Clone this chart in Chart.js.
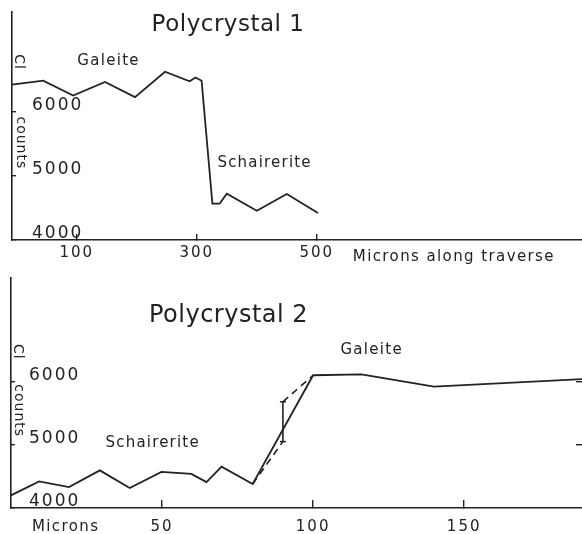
<!DOCTYPE html>
<html lang="en">

<head>
    <meta charset="UTF-8" />
    <title>Cl counts across polycrystals</title>
    <script src="https://cdn.jsdelivr.net/npm/chart.js"></script>
    <style>
        body { margin: 0; background: #fff; }
        canvas { position: absolute; left: 0; }
        #topChart { top: 0; }
        #bottomChart { top: 262px; }
    </style>
</head>

<body>
    <canvas id="topChart" width="582" height="272"></canvas>
    <canvas id="bottomChart" width="582" height="272"></canvas>

    <script>
        // Polycrystal 1 traverse
        const p1Microns = [-8, 44, 94, 147, 197, 247, 288, 298, 308, 326, 338, 350, 400, 450, 502];
        const p1Counts = [6420, 6480, 6250, 6460, 6225, 6620, 6470, 6530, 6480, 4565, 4565, 4720, 4455, 4715, 4420];
        const p1MicronTicks = [100, 300, 500];
        const p1CountTicks = [4000, 5000, 6000];

        // Polycrystal 2 traverse
        const p2Microns = [0, 9.3, 19.2, 29.4, 39.3, 49.8, 59.7, 64.7, 69.7, 80, 100, 116, 140, 189];
        const p2Counts = [4200, 4420, 4330, 4595, 4315, 4570, 4540, 4410, 4655, 4380, 6100, 6115, 5920, 6040];
        // dashed alternative with error bar at 90 microns
        const p2AltMicrons = [80, 90, 90, 100];
        const p2AltCounts = [4380, 5050, 5680, 6100];
        const p2MicronTicks = [50, 100, 150];
        const p2CountTicks = [4000, 5000, 6000];

        const ink = "#222";
        const font = "'DejaVu Sans', sans-serif";

        const toPoints = (xs, ys) => xs.map((x, i) => ({ x: x, y: ys[i] }));
        const setTicks = (list) => (scale) => { scale.ticks = list.map(v => ({ value: v })); };
        // fixed box size, no extra room for overhanging labels
        const fitBox = (w, h) => (s) => {
            if (w !== null) s.width = w;
            if (h !== null) s.height = h;
            s.paddingTop = s.paddingBottom = s.paddingLeft = s.paddingRight = 0;
        };

        // text written on the plot, placed in data units
        const notesPlugin = {
            id: "notes",
            beforeDraw(chart) {
                chart.ctx.letterSpacing = "2px";
            },
            afterDraw(chart, args, opts) {
                const ctx = chart.ctx;
                const xs = chart.scales.x;
                const ys = chart.scales.y;
                opts.items.forEach(n => {
                    ctx.save();
                    ctx.fillStyle = ink;
                    ctx.font = n.size + "px " + font;
                    ctx.letterSpacing = (n.spacing || 0) + "px";
                    ctx.textAlign = n.align || "center";
                    ctx.textBaseline = "middle";
                    ctx.translate(xs.getPixelForValue(n.x), ys.getPixelForValue(n.y));
                    if (n.rotate) ctx.rotate(Math.PI / 2);
                    ctx.fillText(n.text, 0, 0);
                    ctx.restore();
                });
            },
        };

        function axisX(min, max, ticks, height, tickLen, pad) {
            return {
                type: "linear",
                min: min,
                max: max,
                afterFit: fitBox(null, height),
                afterBuildTicks: setTicks(ticks),
                border: { color: ink, width: 1.6 },
                grid: { drawOnChartArea: false, tickLength: tickLen, color: ink, lineWidth: 1.4 },
                ticks: {
                    padding: pad,
                    maxRotation: 0,
                    color: ink,
                    font: { family: font, size: 15 },
                    callback: (v) => String(v),
                },
            };
        }

        function axisY(min, max, ticks, pad) {
            return {
                min: min,
                max: max,
                afterFit: fitBox(0, null),
                afterBuildTicks: setTicks(ticks),
                border: { color: ink, width: 1.6 },
                grid: { drawOnChartArea: false, tickLength: -4, color: ink, lineWidth: 1.4 },
                ticks: {
                    mirror: true,
                    padding: pad,
                    labelOffset: -6,
                    color: ink,
                    font: { family: font, size: 17 },
                    callback: (v) => String(v),
                },
            };
        }

        new Chart(document.getElementById("topChart"), {
            type: "line",
            data: {
                datasets: [
                    {
                        data: toPoints(p1Microns, p1Counts),
                        borderColor: ink,
                        borderWidth: 1.8,
                        pointRadius: 0,
                        tension: 0,
                    },
                ],
            },
            options: {
                responsive: false,
                animation: false,
                layout: { padding: { left: 12, top: 12, right: 0, bottom: 0 } },
                scales: {
                    x: axisX(-8, 942, p1MicronTicks, 32, -6, 10),
                    y: axisY(4000, 7550, p1CountTicks, 20),
                },
                plugins: {
                    legend: { display: false },
                    tooltip: { enabled: false },
                    notes: {
                        items: [
                            { text: "Polycrystal 1", x: 352, y: 7340, size: 23, spacing: 0.5 },
                            { text: "Galeite", x: 153, y: 6790, size: 15, spacing: 1.3 },
                            { text: "Schairerite", x: 413, y: 5202, size: 15, spacing: 1.2 },
                            { text: "Microns along traverse", x: 560, y: 3730, size: 15, spacing: 1.4, align: "left" },
                            { text: "Cl", x: 3, y: 6772, size: 14, spacing: 1, rotate: true },
                            { text: "counts", x: 6, y: 5513, size: 14, spacing: 1, rotate: true },
                        ],
                    },
                },
            },
            plugins: [notesPlugin],
        });

        new Chart(document.getElementById("bottomChart"), {
            type: "line",
            data: {
                datasets: [
                    {
                        data: toPoints(p2Microns, p2Counts),
                        borderColor: ink,
                        borderWidth: 1.8,
                        pointRadius: 0,
                        tension: 0,
                    },
                    {
                        data: toPoints(p2AltMicrons, p2AltCounts),
                        borderColor: ink,
                        borderWidth: 1.6,
                        borderDash: [7, 5],
                        segment: {
                            borderDash: (c) => (c.p0.parsed.x === c.p1.parsed.x ? [] : [7, 5]),
                        },
                        pointStyle: "line",
                        pointRadius: [0, 3, 3, 0],
                        pointBorderColor: ink,
                        pointBorderWidth: 1.5,
                        tension: 0,
                    },
                ],
            },
            options: {
                responsive: false,
                animation: false,
                layout: { padding: { left: 11, top: 16, right: 0, bottom: 0 } },
                scales: {
                    x: axisX(0, 189, p2MicronTicks, 26, -8, 18),
                    y: axisY(4000, 7638, p2CountTicks, 18),
                    y2: {
                        position: "right",
                        min: 4000,
                        max: 7638,
                        afterFit: fitBox(0, null),
                        afterBuildTicks: setTicks([5000, 6000]),
                        border: { display: false },
                        grid: { drawOnChartArea: false, tickLength: -6, color: ink, lineWidth: 1.4 },
                        ticks: { display: false },
                    },
                },
                plugins: {
                    legend: { display: false },
                    tooltip: { enabled: false },
                    notes: {
                        items: [
                            { text: "Polycrystal 2", x: 72, y: 7038, size: 24, spacing: 0.5 },
                            { text: "Galeite", x: 119.4, y: 6501, size: 15, spacing: 1.3 },
                            { text: "Schairerite", x: 46.9, y: 5032, size: 15, spacing: 1.2 },
                            { text: "Microns", x: 18.1, y: 3700, size: 15, spacing: 1.4 },
                            { text: "Cl", x: 2.2, y: 6472, size: 14, spacing: 1, rotate: true },
                            { text: "counts", x: 2.4, y: 5539, size: 14, spacing: 1, rotate: true },
                        ],
                    },
                },
            },
            plugins: [notesPlugin],
        });
    </script>
</body>

</html>
